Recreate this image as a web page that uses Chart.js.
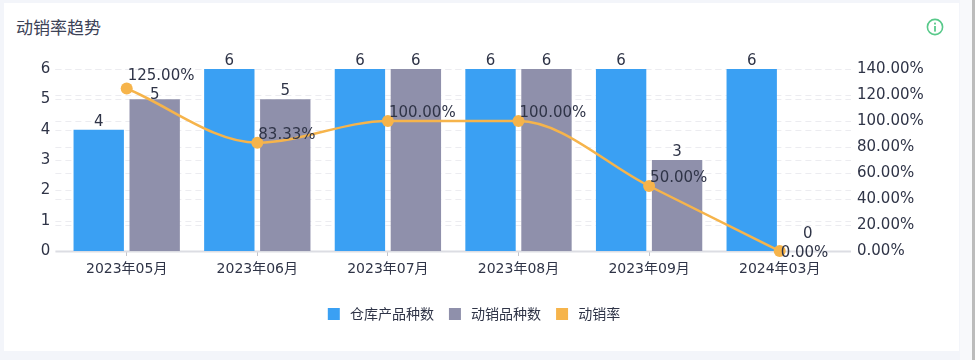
<!DOCTYPE html>
<html>
<head>
<meta charset="utf-8">
<script src="https://cdn.jsdelivr.net/npm/chart.js@4/dist/chart.umd.min.js"></script>
<style>
  html, body { margin: 0; padding: 0; background: #f3f5fa; overflow: hidden; }
  #page { position: relative; width: 975px; height: 360px; }
  #card { position: absolute; left: 4px; top: 3px; width: 955px; height: 348px; background: #fff; }
  #side { position: absolute; left: 960px; top: 0; width: 12px; height: 360px; background: #f8f9fb; }
  #bar { position: absolute; left: 972px; top: 0; width: 3px; height: 360px; background: #bcbcbc; }
  #title { position: absolute; left: 16px; top: 15px; font: 17px "Noto Sans CJK SC"; color: #3c4257; line-height: 24px; }
  #info { position: absolute; left: 926px; top: 18px; }
  canvas { position: absolute; left: 0; top: 0; }
</style>
</head>
<body>
<div id="page">
  <div id="card"></div>
  <div id="side"></div>
  <div id="bar"></div>
  <div id="title">动销率趋势</div>
  <svg id="info" width="18" height="18" viewBox="0 0 18 18">
    <circle cx="9" cy="9" r="7.6" fill="none" stroke="#58c98a" stroke-width="1.6"/>
    <rect x="8.1" y="8" width="1.8" height="5.6" fill="#58c98a"/>
    <rect x="8.1" y="4.6" width="1.8" height="1.9" fill="#58c98a"/>
  </svg>
  <canvas id="myChart" width="948" height="360"></canvas>
</div>
<script>
var categories = ['2023年05月','2023年06月','2023年07月','2023年08月','2023年09月','2024年03月'];
var warehouseCounts = [4,6,6,6,6,6];
var movingCounts = [5,5,6,6,3,0];
var movingRates = [125,83.33,100,100,50,0];
var leftTicks = [0,1,2,3,4,5,6];
var rightTicks = [0,20,40,60,80,100,120,140];

var fontFamily = '"DejaVu Sans", "Noto Sans CJK SC", sans-serif';
var textColor = '#2f3447';

// gridlines of both y axes run a bit past the plot area on each side
var extendedGrid = {
    id: 'extendedGrid',
    beforeDatasetsDraw: function(chart) {
        var c = chart.ctx, area = chart.chartArea;
        c.save();
        c.strokeStyle = '#ececf0';
        c.lineWidth = 1;
        c.setLineDash([6,4]);
        ['y','y1'].forEach(function(id) {
            var scale = chart.scales[id];
            scale.ticks.forEach(function(t) {
                if (t.value === 0) return;
                var py = Math.round(scale.getPixelForValue(t.value)) + 0.5;
                c.beginPath();
                c.moveTo(area.left - 6, py);
                c.lineTo(area.right + 6, py);
                c.stroke();
            });
        });
        c.setLineDash([]);
        c.strokeStyle = '#dcdde3';
        c.lineWidth = 2;
        c.beginPath();
        c.moveTo(area.left - 6, area.bottom + 0.5);
        c.lineTo(area.right + 6, area.bottom + 0.5);
        c.stroke();
        c.restore();
    }
};

// value labels; the source chart nudges a few of them to avoid overlaps
var valueLabels = {
    id: 'valueLabels',
    afterDatasetsDraw: function(chart) {
        var c = chart.ctx;
        c.save();
        c.font = '15px ' + fontFamily;
        c.fillStyle = textColor;
        c.textBaseline = 'middle';
        chart.data.datasets.forEach(function(ds, i) {
            chart.getDatasetMeta(i).data.forEach(function(el, j) {
                if (ds.type === 'line') {
                    var up = j === 0 ? 12 : (j === 5 ? -2 : 8);
                    c.textAlign = 'left';
                    c.fillText(ds.data[j].toFixed(2) + '%', el.x + 1, el.y - up);
                } else {
                    var lift = 8;
                    if (i === 2 && j === 0) lift = 4;
                    if (i === 2 && j === 5) lift = 17;
                    c.textAlign = 'center';
                    c.fillText(String(ds.data[j]), el.x, el.y - lift);
                }
            });
        });
        c.restore();
    }
};

var ctx = document.getElementById('myChart').getContext('2d');
var chart = new Chart(ctx,{
    type: 'bar',
    plugins: [extendedGrid, valueLabels],
    data: {
        labels: categories,
        datasets: [{
            type: 'line',
            label: '动销率',
            data: movingRates,
            yAxisID: 'y1',
            borderColor: '#f6b44b',
            backgroundColor: '#f6b44b',
            borderWidth: 2.5,
            cubicInterpolationMode: 'monotone',
            pointRadius: 6,
            pointBackgroundColor: '#f6b44b',
            pointBorderWidth: 0,
            clip: false,
            order: 0
        },{
            label: '仓库产品种数',
            data: warehouseCounts,
            yAxisID: 'y',
            backgroundColor: '#3aa0f3',
            categoryPercentage: 0.857,
            barPercentage: 0.9,
            order: 1
        },{
            label: '动销品种数',
            data: movingCounts,
            yAxisID: 'y',
            backgroundColor: '#8f90ab',
            categoryPercentage: 0.857,
            barPercentage: 0.9,
            order: 1
        }]
    },
    options: {
        responsive: false,
        animation: false,
        layout: { padding: { top: 69, bottom: 29 } },
        scales: {
            x: {
                grid: { display: true, drawOnChartArea: false, offset: false, tickLength: 5, tickColor: '#c4c5cc' },
                border: { display: false },
                ticks: { color: textColor, padding: 5, font: { family: fontFamily, size: 14 }, maxRotation: 0 },
                afterFit: function(axis) { axis.height = 41; }
            },
            y: {
                position: 'left',
                min: 0,
                max: 6,
                grid: { display: false, drawTicks: false },
                border: { display: false },
                afterBuildTicks: function(axis) { axis.ticks = leftTicks.map(function(v) { return { value: v }; }); },
                ticks: { color: textColor, padding: 11, font: { family: fontFamily, size: 15 } },
                afterFit: function(axis) { axis.width = 61.4; }
            },
            y1: {
                position: 'right',
                min: 0,
                max: 140,
                grid: { display: false, drawTicks: false },
                border: { display: false },
                afterBuildTicks: function(axis) { axis.ticks = rightTicks.map(function(v) { return { value: v }; }); },
                ticks: {
                    color: textColor,
                    padding: 12,
                    font: { family: fontFamily, size: 15 },
                    callback: function(v) { return v.toFixed(2) + '%'; }
                },
                afterFit: function(axis) { axis.width = 103; }
            }
        },
        plugins: {
            tooltip: { enabled: false },
            legend: {
                position: 'bottom',
                labels: {
                    boxWidth: 12,
                    boxHeight: 12,
                    padding: 15,
                    color: textColor,
                    font: { family: '"Noto Sans CJK SC", sans-serif', size: 14 },
                    sort: function(a, b) { return a.datasetIndex === 0 ? 1 : (b.datasetIndex === 0 ? -1 : a.datasetIndex - b.datasetIndex); },
                    generateLabels: function(ch) {
                        return Chart.defaults.plugins.legend.labels.generateLabels(ch).map(function(l) {
                            l.text = ' ' + l.text;
                            l.lineWidth = 0;
                            return l;
                        });
                    }
                }
            }
        }
    }
});
</script>
</body>
</html>
